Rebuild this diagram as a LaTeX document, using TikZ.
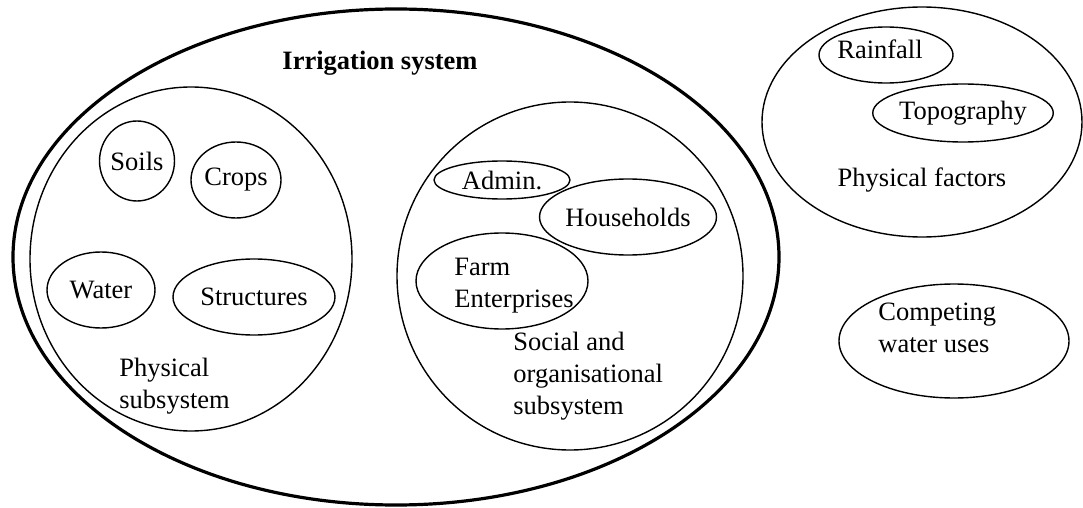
\documentclass[tikz,border=0pt]{standalone}
\usepackage{fontspec}
\setmainfont{Liberation Serif}
\usepackage{tikz}
\usetikzlibrary{shapes.geometric}

\begin{document}
\begin{tikzpicture}[
    x=0.5pt, y=-0.5pt,
    every node/.style={
        font=\fontsize{13.25}{16}\selectfont,
        inner sep=0pt
    },
    bubble/.style={draw, ellipse, line width=0.7pt},
    outer/.style={draw, ellipse, line width=1.6pt},
    caption/.style={align=left, anchor=west}
]
\useasboundingbox (0,0) rectangle (1083,508);

% irrigation system
\node[outer, minimum width=383pt, minimum height=248pt] (irrig) at (396,257) {};
\node (irrigtitle) at (380,63) {\textbf{Irrigation system}};

% physical subsystem
\node[bubble, minimum width=161pt, minimum height=172pt] (physsub) at (191,259) {};
\node[bubble, minimum width=36pt, minimum height=40pt] (soils) at (137,161) {Soils};
\node[bubble, minimum width=45pt, minimum height=38pt] (crops) at (236,180) {Crops};
\node[bubble, minimum width=54pt, minimum height=38pt] (water) at (101,290) {Water};
\node[bubble, minimum width=81pt, minimum height=38pt] (structures) at (254,297) {Structures};
\node[caption] (physsubtext) at (119,386) {Physical\\subsystem};

% social and organisational subsystem
\node[bubble, minimum width=173pt, minimum height=174pt] (social) at (570,276) {};
\node[bubble, minimum width=68pt, minimum height=19pt] (admin) at (502,180) {Admin.};
\node[bubble, minimum width=77pt, minimum height=38pt] (households) at (628,217) {Households};
\node[bubble, minimum width=86pt, minimum height=48pt] (farm) at (502,281) {};
\node[caption] (farmtext) at (454,286) {Farm\\Enterprises};
\node[caption] (socialtext) at (513,376) {Social and\\organisational\\subsystem};

% outside factors
\node[bubble, minimum width=160pt, minimum height=115pt] (physfac) at (922,122) {};
\node[bubble, minimum width=67pt, minimum height=28pt] (rainfall) at (886,55) {};
\node (rainfalltext) at (880,49) {Rainfall};
\node[bubble, minimum width=87pt, minimum height=29pt] (topo) at (963,113) {Topography};
\node (physfactext) at (922,180) {Physical factors};

\node[bubble, minimum width=115pt, minimum height=57pt] (compete) at (954,341) {};
\node[caption] (competetext) at (878,328) {Competing\\water uses};

\end{tikzpicture}
\end{document}
